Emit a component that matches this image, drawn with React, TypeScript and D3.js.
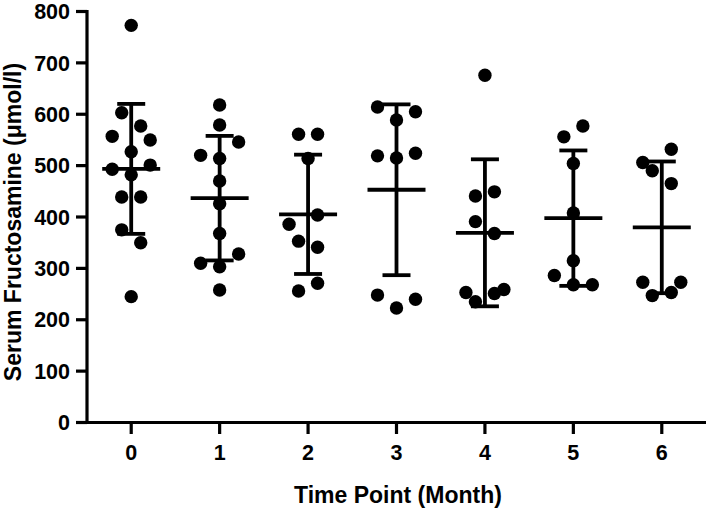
import React from "react";
import * as d3 from "d3";

// ---- data ----
const months = ["0", "1", "2", "3", "4", "5", "6"];
const yTicks = [0, 100, 200, 300, 400, 500, 600, 700, 800];

const month0 = [773, 603, 577, 557, 550, 527, 501, 493, 482, 439, 439, 375, 350, 245];
const month1 = [618, 579, 546, 520, 514, 470, 426, 368, 328, 310, 303, 258];
const month2 = [561, 561, 514, 404, 386, 353, 341, 271, 256];
const month3 = [614, 605, 589, 524, 519, 515, 248, 240, 223];
const month4 = [676, 449, 441, 391, 368, 259, 253, 251, 235];
const month5 = [577, 556, 504, 408, 315, 286, 268, 268];
const month6 = [532, 506, 490, 465, 273, 273, 253, 247];

// swarm column index of each point (left/right spread as in the reference)
const swarm0 = [0, -1, 1, -2, 2, 0, 2, -2, 0, -1, 1, -1, 1, 0];
const swarm1 = [0, 0, 2, -2, 0, 0, 0, 0, 2, -2, 0, 0];
const swarm2 = [-1, 1, 0, 1, -2, -1, 1, 1, -1];
const swarm3 = [-2, 2, 0, 2, -2, 0, -2, 2, 0];
const swarm4 = [0, 1, -1, -1, 1, 2, -2, 1, -1];
const swarm5 = [1, -1, 0, 0, 0, -2, 0, 2];
const swarm6 = [1, -2, -1, 1, -2, 2, 1, -1];

const values = [month0, month1, month2, month3, month4, month5, month6];
const swarms = [swarm0, swarm1, swarm2, swarm3, swarm4, swarm5, swarm6];

const W = 709;
const H = 508;
const FONT = "'Liberation Sans', Arial, Helvetica, sans-serif";

export default function App() {
  const x = d3.scalePoint<string>().domain(months).range([87, 706]).padding(0.5);
  const y = d3.scaleLinear().domain([0, 800]).range([422.5, 11.5]);
  const laneW = 9.5;
  const r = 6.7;
  const meanHalf = 29;
  const capHalf = 14;
  const sw = 3.8;

  return (
    <svg
      width={W}
      height={H}
      style={{ position: "absolute", left: 0, top: 0, background: "#fff" }}
      fontFamily={FONT}
    >
      <rect x={0} y={0} width={W} height={H} fill="#fff" />
      {/* error bars: mean ± SD */}
      {months.map((m, i) => {
        const v = values[i];
        const mean = d3.mean(v) as number;
        const sd = d3.deviation(v) as number;
        const cx = x(m) as number;
        return (
          <g key={"eb" + m} stroke="#000" strokeWidth={sw}>
            <line x1={cx} x2={cx} y1={y(mean + sd)} y2={y(mean - sd)} />
            <line x1={cx - capHalf} x2={cx + capHalf} y1={y(mean + sd)} y2={y(mean + sd)} />
            <line x1={cx - capHalf} x2={cx + capHalf} y1={y(mean - sd)} y2={y(mean - sd)} />
            <line x1={cx - meanHalf} x2={cx + meanHalf} y1={y(mean)} y2={y(mean)} />
          </g>
        );
      })}
      {/* points */}
      {months.map((m, i) =>
        values[i].map((v, j) => (
          <circle
            key={"p" + m + "-" + j}
            cx={(x(m) as number) + swarms[i][j] * laneW}
            cy={y(v)}
            r={r}
            fill="#000"
          />
        ))
      )}
      {/* y axis */}
      <line x1={87} x2={87} y1={y(800) - 1.5} y2={y(0) + 1.5} stroke="#000" strokeWidth={3.2} />
      {yTicks.map((t) => (
        <g key={"yt" + t}>
          <line x1={76} x2={87} y1={y(t)} y2={y(t)} stroke="#000" strokeWidth={3.2} />
          <text
            x={70}
            y={y(t)}
            dy="0.36em"
            textAnchor="end"
            fontSize={21.5}
            fontWeight="bold"
            fill="#000"
          >
            {t}
          </text>
        </g>
      ))}
      {/* x axis */}
      <line x1={85.5} x2={706} y1={y(0)} y2={y(0)} stroke="#000" strokeWidth={3.2} />
      {months.map((m) => (
        <g key={"xt" + m}>
          <line x1={x(m)} x2={x(m)} y1={y(0)} y2={434} stroke="#000" strokeWidth={3.2} />
          <text x={x(m)} y={460} textAnchor="middle" fontSize={21.5} fontWeight="bold" fill="#000">
            {m}
          </text>
        </g>
      ))}
      {/* titles */}
      <text x={398} y={503} textAnchor="middle" fontSize={23} fontWeight="bold" fill="#000">
        Time Point (Month)
      </text>
      <text
        transform={`translate(21, 222) rotate(-90)`}
        textAnchor="middle"
        fontSize={23}
        fontWeight="bold"
        fill="#000"
      >
        Serum Fructosamine (μmol/l)
      </text>
    </svg>
  );
}
